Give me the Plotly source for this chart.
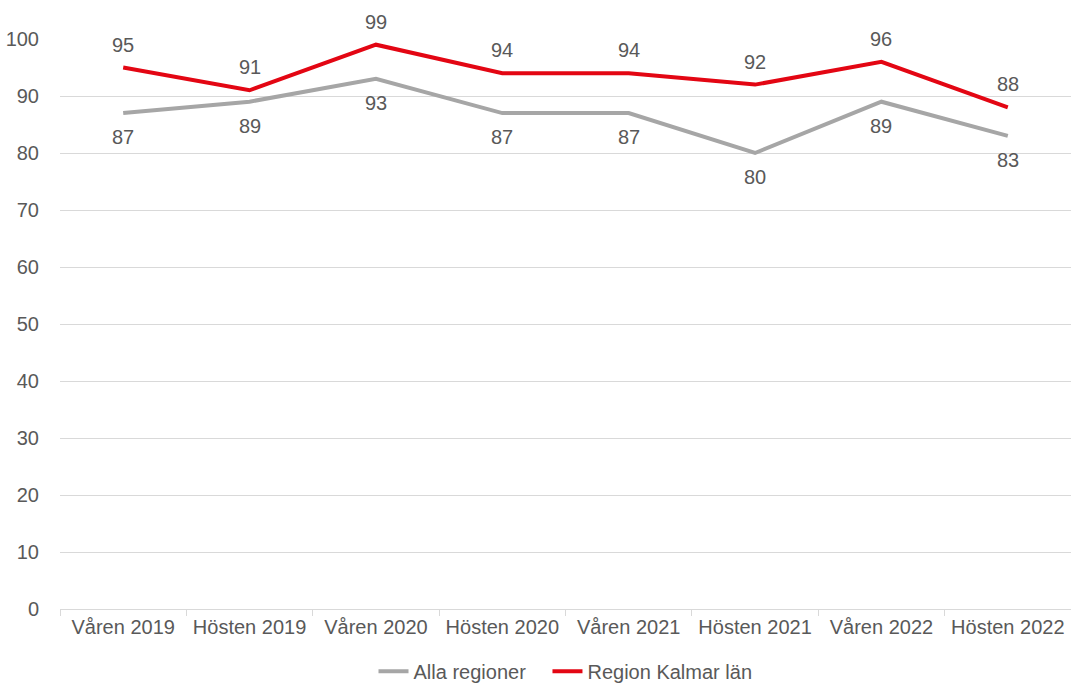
import plotly.graph_objects as go

categories = ["Våren 2019", "Hösten 2019", "Våren 2020", "Hösten 2020",
              "Våren 2021", "Hösten 2021", "Våren 2022", "Hösten 2022"]
alla_regioner = [87, 89, 93, 87, 87, 80, 89, 83]
region_kalmar = [95, 91, 99, 94, 94, 92, 96, 88]
y_ticks = [0, 10, 20, 30, 40, 50, 60, 70, 80, 90, 100]

FONT = "Liberation Sans, Arial, sans-serif"
TXT = "#595959"
FS = 20

fig = go.Figure()
fig.add_trace(go.Scatter(
    x=categories, y=alla_regioner, name="Alla regioner\u00a0\u00a0\u00a0", mode="lines",
    line=dict(color="#A6A6A6", width=4), cliponaxis=False,
))
fig.add_trace(go.Scatter(
    x=categories, y=region_kalmar, name="Region Kalmar län", mode="lines",
    line=dict(color="#E30613", width=4), cliponaxis=False,
))

annotations = []
for c, v in zip(categories, alla_regioner):
    annotations.append(dict(x=c, y=v, xref="x", yref="y", text=str(v), showarrow=False,
                            yshift=-24, font=dict(size=FS, color=TXT, family=FONT)))
for c, v in zip(categories, region_kalmar):
    annotations.append(dict(x=c, y=v, xref="x", yref="y", text=str(v), showarrow=False,
                            yshift=23, font=dict(size=FS, color=TXT, family=FONT)))

fig.update_layout(
    width=1071, height=684,
    margin=dict(l=60, r=0, t=39, b=75, autoexpand=False),
    paper_bgcolor="white", plot_bgcolor="white",
    font=dict(family=FONT, size=FS, color=TXT),
    showlegend=True,
    annotations=annotations,
    legend=dict(orientation="h", x=0.5, xanchor="center", y=-0.075, yanchor="top",
                font=dict(size=FS, color=TXT), itemwidth=30, tracegroupgap=0),
)
fig.update_xaxes(
    type="category", range=[-0.5, 7.5], automargin=False,
    showgrid=False, showline=True, linecolor="#D9D9D9", linewidth=1,
    ticks="outside", tickson="boundaries", ticklen=6, tickcolor="#D9D9D9",
    tickfont=dict(size=FS, color=TXT), fixedrange=True,
)
fig.update_yaxes(
    range=[0, 100], tickvals=y_ticks, showgrid=True, gridcolor="#D9D9D9", gridwidth=1,
    zeroline=False, showline=False, ticks="", ticklabelstandoff=20, automargin=False,
    tickfont=dict(size=FS, color=TXT),
)

fig.write_html(
    "out.html",
    config={"displayModeBar": False},
    post_script="document.body.style.margin='0';document.body.style.overflow='hidden';",
)
